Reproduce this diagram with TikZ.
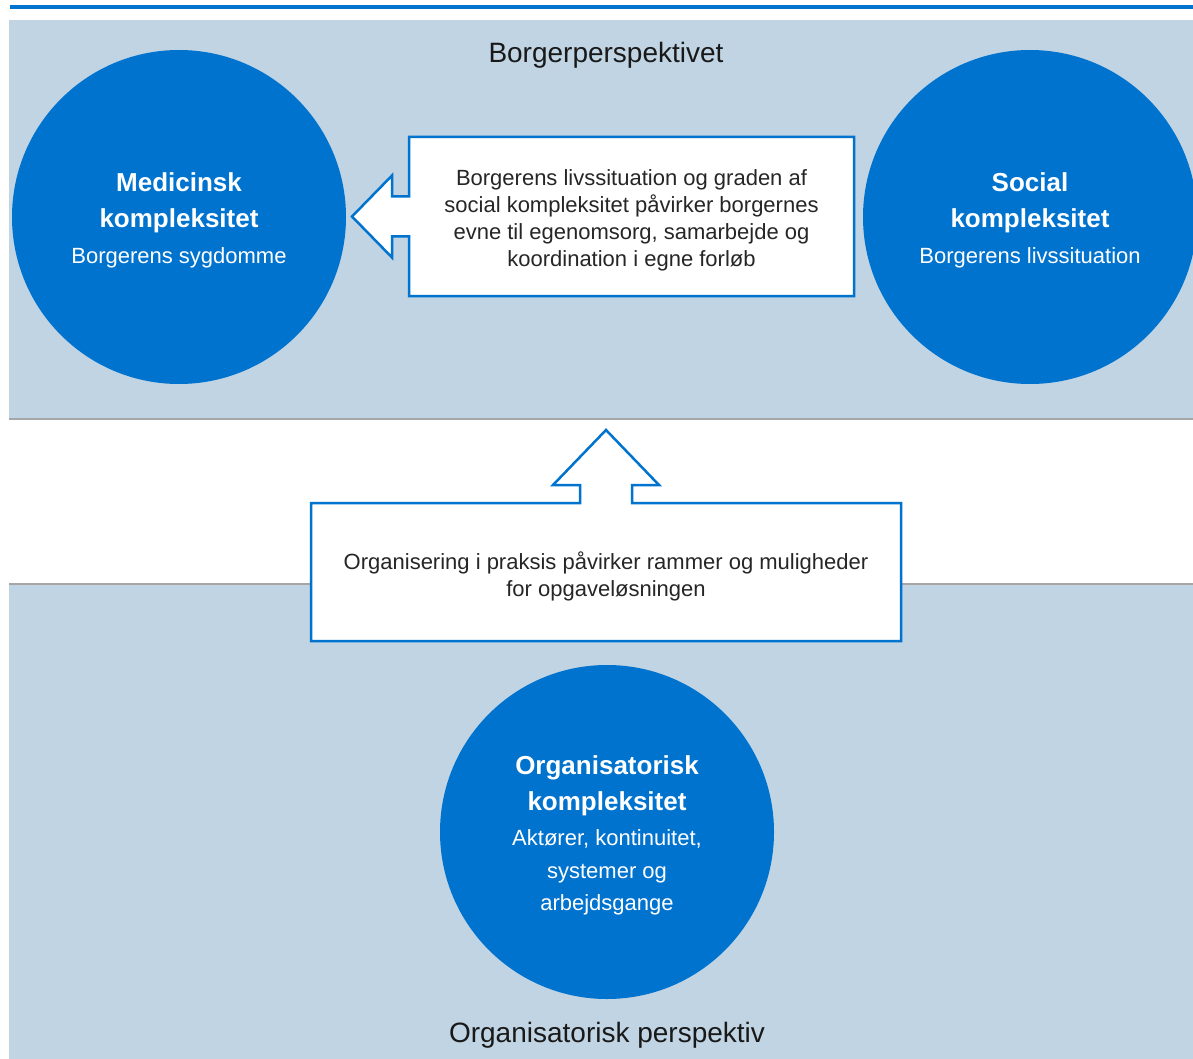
\documentclass[tikz,border=0pt]{standalone}
\usepackage{fontspec}
\setmainfont{Liberation Sans}
\usetikzlibrary{calc}
\definecolor{kblue}{HTML}{0073CF}
\definecolor{kband}{HTML}{C1D4E3}
\definecolor{kgray}{HTML}{A6A6A6}
\newcommand{\loft}{\rule{0pt}{26pt}}
\begin{document}
\begin{tikzpicture}[x=1pt,y=-1pt,
    kreds/.style={circle,fill=kblue,text=white,minimum size=334pt,inner sep=0pt,align=center,
      font=\fontsize{26}{36}\selectfont\bfseries},
    kant/.style={draw=kblue,fill=white,line width=2.5pt,line join=miter},
    tekst/.style={align=center,text=black!85,font=\fontsize{22}{27}\selectfont},
    overskrift/.style={text=black!90,font=\fontsize{28}{32}\selectfont}]
  % Billedflade: 1193 x 1059
  \useasboundingbox (0,0) rectangle (1193,1059);
  \clip (0,0) rectangle (1193,1059);
  \fill[white] (0,0) rectangle (1193,1059);
  % Blaa streg foroven
  \fill[kblue] (10,5) rectangle (1193,9);
  % Baggrundsfelter
  \fill[kband] (9,20) rectangle (1193,419);
  \fill[kband] (9,584) rectangle (1193,1059);
  \draw[kgray,line width=1.2pt] (9,419) -- (1193,419);
  \draw[kgray,line width=1.2pt] (9,584) -- (1193,584);
  % Overskrifter
  \node[overskrift] (borgerlabel) at (606,55) {Borgerperspektivet};
  \node[overskrift] (orglabel) at (607,1035) {Organisatorisk perspektiv};
  % Cirkler
  \node[kreds] (medicinsk) at (179,217)
    {\loft Medicinsk\\kompleksitet\\{\fontsize{22}{36}\selectfont\mdseries Borgerens sygdomme}};
  \node[kreds] (social) at (1030,217)
    {\loft Social\\kompleksitet\\{\fontsize{22}{36}\selectfont\mdseries Borgerens livssituation}};
  \node[kreds] (organisatorisk) at (607,832)
    {\loft Organisatorisk\\kompleksitet\\[-1pt]{\fontsize{22}{36}\selectfont\mdseries Akt\o rer, kontinuitet,}\\[-3pt]
     {\fontsize{22}{36}\selectfont\mdseries systemer og}\\[-4pt]{\fontsize{22}{36}\selectfont\mdseries arbejdsgange}};
  % Pilekasse mod venstre
  \coordinate (livsbox) at (631.5,216.5);
  \draw[kant] ($(livsbox)+(-222.5,-79.5)$) -- ($(livsbox)+(222.5,-79.5)$)
    -- ($(livsbox)+(222.5,79.5)$) -- ($(livsbox)+(-222.5,79.5)$)
    -- ($(livsbox)+(-222.5,20)$) -- ++(-17,0) -- ++(0,21)
    -- ($(livsbox)+(-279.5,0)$) -- ($(livsbox)+(-239.5,-41)$) -- ++(0,21)
    -- ++(17,0) -- cycle;
  \node[tekst] (livstekst) at ($(livsbox)+(0,4)$)
    {Borgerens livssituation og graden af\\social kompleksitet p\aa virker borgernes\\
     evne til egenomsorg, samarbejde og\\koordination i egne forl\o b};
  % Pilekasse opad
  \coordinate (orgbox) at (606,572);
  \draw[kant] ($(orgbox)+(-295,69)$) -- ($(orgbox)+(295,69)$)
    -- ($(orgbox)+(295,-69)$) -- ($(orgbox)+(26,-69)$) -- ++(0,-18) -- ++(27,0)
    -- ($(orgbox)+(0,-142)$) -- ($(orgbox)+(-53,-87)$) -- ++(27,0) -- ++(0,18)
    -- ($(orgbox)+(-295,-69)$) -- cycle;
  \node[tekst] (orgtekst) at ($(orgbox)+(0,4)$)
    {Organisering i praksis p\aa virker rammer og muligheder\\for opgavel\o sningen};
\end{tikzpicture}
\end{document}
